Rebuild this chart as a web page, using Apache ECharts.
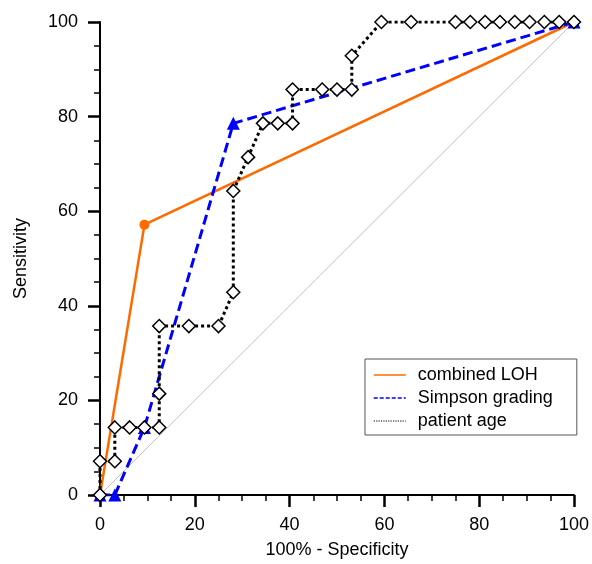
<!DOCTYPE html>
<html>
<head>
<meta charset="utf-8">
<script src="https://cdn.jsdelivr.net/npm/echarts@6/dist/echarts.min.js"></script>
<style>html,body{margin:0;padding:0;background:#fff}#c{width:592px;height:564px}</style>
</head>
<body>
<div id="c"></div>
<script>
const seriesNames = ['combined LOH', 'Simpson grading', 'patient age'];
const xTicks = [0, 20, 40, 60, 80, 100];
const yTicks = [0, 20, 40, 60, 80, 100];

const lohX = [0, 9.375, 100];
const lohY = [0, 57.14, 100];

const simpsonX = [0, 3.125, 9.375, 28.125, 100];
const simpsonY = [0, 0, 14.29, 78.57, 100];

const ageX = [0, 0, 3.125, 3.125, 6.25, 9.375, 12.5, 12.5, 12.5, 18.75, 25, 28.125, 28.125, 31.25, 34.375, 37.5, 40.625, 40.625, 46.875, 50, 53.125, 53.125, 59.375, 65.625, 75, 78.125, 81.25, 84.375, 87.5, 90.625, 93.75, 96.875, 100];
const ageY = [0, 7.14, 7.14, 14.29, 14.29, 14.29, 14.29, 21.43, 35.71, 35.71, 35.71, 42.86, 64.29, 71.43, 78.57, 78.57, 78.57, 85.71, 85.71, 85.71, 85.71, 92.86, 100, 100, 100, 100, 100, 100, 100, 100, 100, 100, 100];

const diagX = [0, 100];
const diagY = [0, 100];

const zip = (xs, ys) => xs.map((x, i) => [x, ys[i]]);
const FONT = 'Liberation Sans';

function axis(name, isX, ticks) {
  return {
    type: 'value',
    min: ticks[0], max: ticks[ticks.length - 1], interval: 20,
    name: name,
    nameLocation: 'middle',
    nameGap: isX ? 46 : 70,
    nameTextStyle: { fontFamily: FONT, fontSize: 18, color: '#000' },
    axisLine: { show: true, onZero: false, lineStyle: { color: '#000', width: 2 } },
    axisTick: { show: true, inside: false, length: 12, lineStyle: { color: '#000', width: 2.5 } },
    minorTick: { show: true, splitNumber: 4, length: 6, lineStyle: { color: '#000', width: 1.5 } },
    axisLabel: { fontFamily: FONT, fontSize: 18, color: '#000', margin: isX ? 21 : 22 },
    splitLine: { show: false }
  };
}

const chart = echarts.init(document.getElementById('c'), null, { renderer: 'canvas' });
chart.setOption({
  backgroundColor: '#fff',
  animation: false,
  grid: { left: 100, right: 17, top: 22, bottom: 67, containLabel: false },
  xAxis: axis('100% - Specificity', true, xTicks),
  yAxis: axis('Sensitivity', false, yTicks),
  legend: {
    data: [
      { name: seriesNames[0], lineStyle: { width: 1.5 } },
      { name: seriesNames[1], lineStyle: { width: 1.5, type: [4, 2] } },
      { name: seriesNames[2], lineStyle: { width: 1.2, type: [1.2, 1.2] } }
    ],
    orient: 'vertical',
    left: 365, top: 359,
    padding: [7, 24, 5, 8],
    itemWidth: 32, itemHeight: 14, itemGap: 5,
    borderColor: '#555', borderWidth: 1,
    backgroundColor: '#fff',
    itemStyle: { opacity: 0 },
    textStyle: { fontFamily: FONT, fontSize: 18, color: '#000', padding: [0, 0, 0, 7] }
  },
  series: [
    {
      name: 'diag', type: 'line', data: zip(diagX, diagY), symbol: 'none', silent: true,
      lineStyle: { color: '#c0c0c0', width: 1 }, z: 1
    },
    {
      name: seriesNames[0], type: 'line', data: zip(lohX, lohY),
      symbol: 'circle', symbolSize: 10, showAllSymbol: true,
      itemStyle: { color: '#ff6a00' },
      lineStyle: { color: '#ff6a00', width: 2.5 }, z: 2
    },
    {
      name: seriesNames[1], type: 'line', data: zip(simpsonX, simpsonY),
      symbol: 'triangle', symbolSize: 13, showAllSymbol: true,
      itemStyle: { color: '#0000ff' },
      lineStyle: { color: '#0000ff', width: 3, type: [10, 5] }, z: 3
    },
    {
      name: seriesNames[2], type: 'line', data: zip(ageX, ageY),
      symbol: 'diamond', symbolSize: 13, showAllSymbol: true,
      itemStyle: { color: '#fff', borderColor: '#000', borderWidth: 1.5 },
      lineStyle: { color: '#000', width: 3, type: [3, 3] }, z: 4
    }
  ]
});
</script>
</body>
</html>
